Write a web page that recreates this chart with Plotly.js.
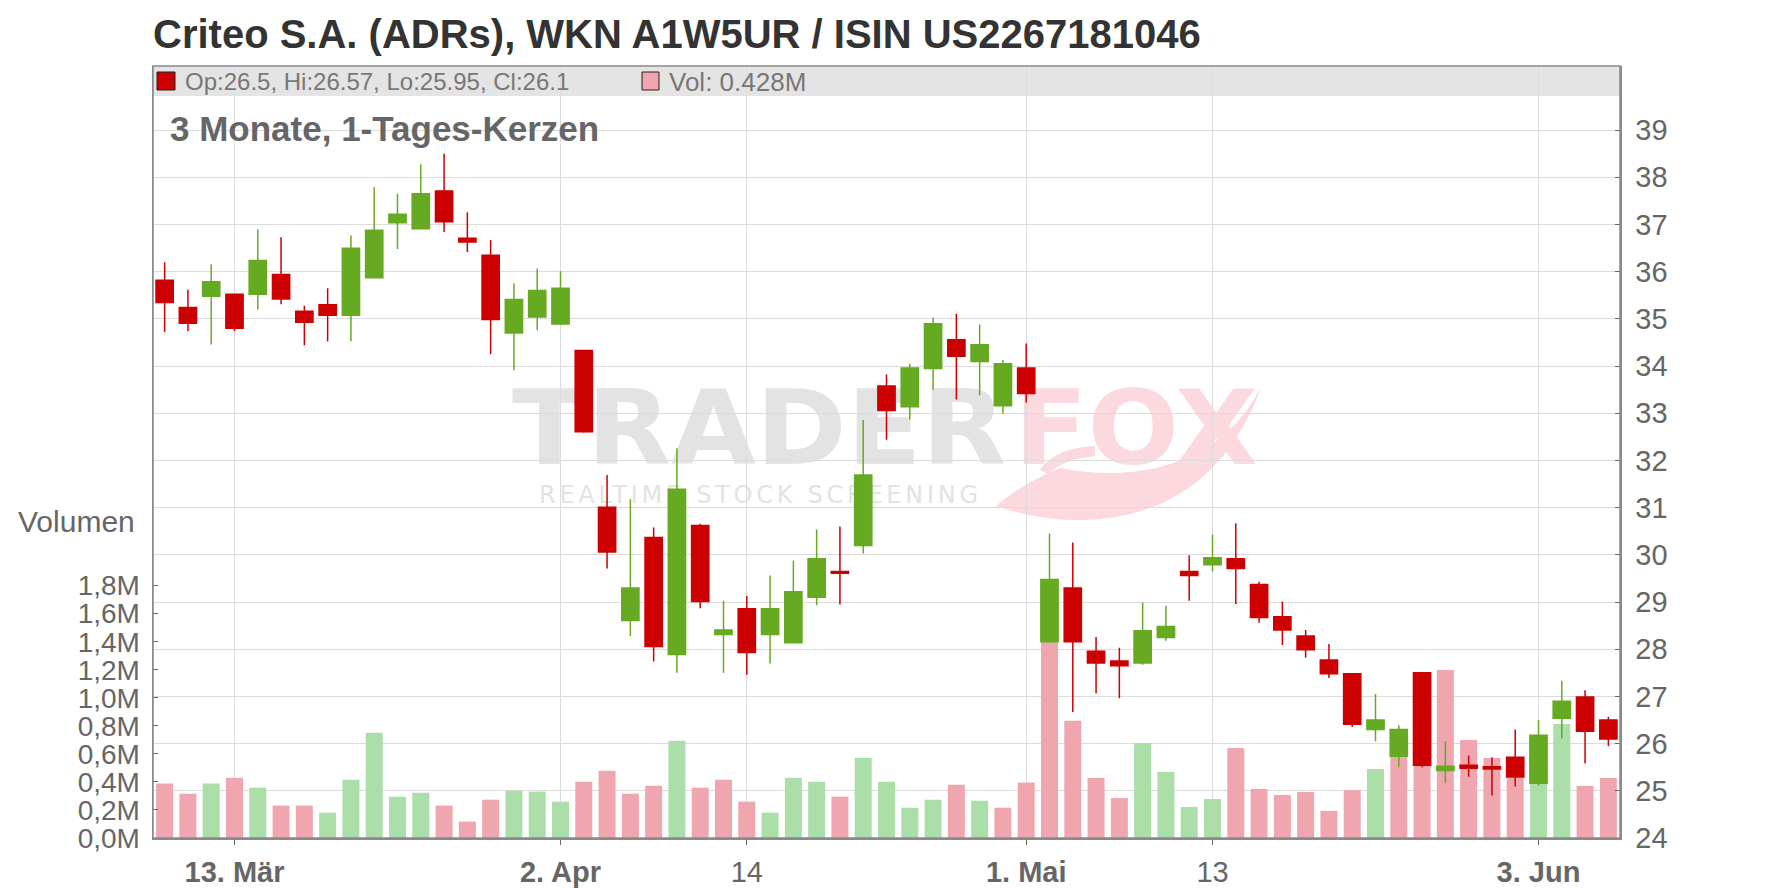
<!DOCTYPE html>
<html>
<head>
<meta charset="utf-8">
<script src="https://cdn.plot.ly/plotly-3.0.1.min.js"></script>
<style>
html,body{margin:0;padding:0;background:#fff;}
#chart{width:1776px;height:888px;}
</style>
</head>
<body>
<div id="chart"></div>
<script>
// ---------- data ----------
const dates = [
 '2019-03-08','2019-03-11','2019-03-12','2019-03-13','2019-03-14','2019-03-15','2019-03-18','2019-03-19','2019-03-20','2019-03-21',
 '2019-03-22','2019-03-25','2019-03-26','2019-03-27','2019-03-28','2019-03-29','2019-04-01','2019-04-02','2019-04-03','2019-04-04',
 '2019-04-05','2019-04-08','2019-04-09','2019-04-10','2019-04-11','2019-04-12','2019-04-15','2019-04-16','2019-04-17','2019-04-18',
 '2019-04-22','2019-04-23','2019-04-24','2019-04-25','2019-04-26','2019-04-29','2019-04-30','2019-05-01','2019-05-02','2019-05-03',
 '2019-05-06','2019-05-07','2019-05-08','2019-05-09','2019-05-10','2019-05-13','2019-05-14','2019-05-15','2019-05-16','2019-05-17',
 '2019-05-20','2019-05-21','2019-05-22','2019-05-23','2019-05-24','2019-05-28','2019-05-29','2019-05-30','2019-05-31','2019-06-03',
 '2019-06-04','2019-06-05','2019-06-06'
];
const open = [
 35.82,35.24,35.48,35.52,35.52,35.94,35.16,35.30,35.08,35.87,
 37.04,36.91,37.71,36.71,36.35,34.70,35.04,34.89,34.33,31.01,
 28.61,30.37,27.89,30.62,28.31,28.86,28.31,28.14,29.10,29.65,
 30.20,33.58,33.14,33.95,34.56,34.10,33.16,33.96,28.16,29.30,
 27.96,27.75,27.71,28.25,29.65,29.79,29.92,29.37,28.69,28.28,
 27.77,27.48,26.30,25.73,27.50,25.43,25.54,25.51,25.71,25.16,
 26.54,26.99,26.5
];
const high = [
 36.20,35.62,36.16,35.54,36.90,36.73,35.28,35.65,36.77,37.79,
 37.65,38.28,38.50,37.26,36.67,35.75,36.07,36.01,34.34,31.69,
 31.18,30.58,32.26,30.66,29.03,29.13,29.56,29.88,30.54,30.60,
 32.86,33.82,34.05,35.03,35.11,34.88,34.13,34.48,30.45,30.26,
 28.26,28.03,28.99,28.92,29.99,30.43,30.67,29.43,29.01,28.41,
 28.11,27.49,27.05,26.39,27.51,26.05,25.75,25.71,26.30,26.50,
 27.33,27.13,26.57
];
const low = [
 34.72,34.74,34.46,34.74,35.20,35.31,34.44,34.52,34.52,35.86,
 36.48,36.90,36.84,36.42,34.25,33.91,34.76,34.87,32.59,29.71,
 28.28,27.74,27.50,28.87,27.50,27.46,27.70,28.12,28.93,28.95,
 30.03,32.44,32.87,33.50,33.29,33.38,32.99,33.23,28.14,26.67,
 27.06,26.96,27.67,28.18,29.03,29.65,28.96,28.56,28.09,27.82,
 27.39,26.35,26.05,25.50,25.50,25.16,25.30,24.90,25.09,25.11,
 26.11,25.58,25.95
];
const close = [
 35.35,34.91,35.79,34.80,36.24,35.42,34.93,35.08,36.50,36.88,
 37.22,37.65,37.06,36.63,34.99,35.41,35.60,35.65,32.61,30.06,
 29.30,28.06,31.39,29.01,28.41,27.93,28.86,29.22,29.92,29.61,
 31.69,33.06,33.96,34.90,34.21,34.45,34.05,33.42,29.48,28.16,
 27.71,27.65,28.39,28.48,29.56,29.94,29.71,28.67,28.41,27.99,
 27.48,26.41,26.50,26.30,25.54,25.52,25.48,25.46,25.29,26.18,
 26.90,26.26,26.1
];
// volume in millions of shares
const volume = [
 0.388,0.316,0.388,0.430,0.359,0.231,0.231,0.181,0.416,0.751,
 0.295,0.323,0.231,0.117,0.273,0.338,0.331,0.259,0.402,0.480,
 0.316,0.373,0.694,0.359,0.416,0.259,0.181,0.430,0.402,0.295,
 0.573,0.402,0.216,0.273,0.380,0.266,0.216,0.395,1.400,0.836,
 0.428,0.285,0.678,0.471,0.221,0.278,0.642,0.350,0.307,0.328,
 0.193,0.342,0.492,0.578,0.520,1.198,0.699,0.571,0.430,0.390,
 0.813,0.371,0.428
];
const tickDates  = ['2019-03-13','2019-04-02','2019-04-12','2019-05-01','2019-05-13','2019-06-03'];
const tickLabels = ['<b>13. Mär</b>','<b>2. Apr</b>','14','<b>1. Mai</b>','13','<b>3. Jun</b>'];
const priceTicks  = [24,25,26,27,28,29,30,31,32,33,34,35,36,37,38,39];
const volumeTicks = [0,0.2,0.4,0.6,0.8,1.0,1.2,1.4,1.6,1.8];

const titleText    = 'Criteo S.A. (ADRs), WKN A1W5UR / ISIN US2267181046';
const subtitleText = '3 Monate, 1-Tages-Kerzen';
const volumeLabel  = 'Volumen';

// ---------- styling / geometry ----------
const W = 1776, H = 888;
const M = {l:153, r:156, t:66, b:50};
const PW = W - M.l - M.r, PH = H - M.t - M.b;
const pxPerPrice = 47.19, pxPerMio = 140.2;
const FONT = 'Liberation Sans, Arial, sans-serif';
const RED = '#cc0000', GREEN = '#66aa22', PINK = '#efa6ae', LGREEN = '#acdeaa';
const GRID = '#dcdcdc', FRAME = '#8a8a8a', TXT = '#666666';

const px2x = X => (X - M.l) / PW;
const px2y = Y => (M.t + PH - Y) / PH;

const n = dates.length - 1;
const volColors = volume.map((v, i) => {
  const up = i === 0 ? close[i] > open[i] : close[i] > close[i - 1];
  return up ? LGREEN : PINK;
});
const volumeTickText = volumeTicks.map(v => v.toFixed(1).replace('.', ',') + 'M');

// watermark (drawn below grid and traces)
const wm = '<svg xmlns="http://www.w3.org/2000/svg" width="' + PW + '" height="' + PH + '" viewBox="' + M.l + ' ' + M.t + ' ' + PW + ' ' + PH + '">' +
  '<text x="512" y="464" font-family="DejaVu Sans" font-weight="bold" font-size="104" fill="#e3e3e3" textLength="494" lengthAdjust="spacingAndGlyphs">TRADER</text>' +
  '<path d="M 996 506 C 1060 528, 1205 545, 1262 385 C 1220 470, 1130 482, 1060 468 C 1035 478, 1012 492, 996 506 Z" fill="#fcd9de"/>' +
  '<path d="M 1040 470 C 1050 455, 1070 447, 1095 446 L 1095 456 C 1075 458, 1058 464, 1048 474 Z" fill="#fcd9de"/>' +
  '<text x="1014" y="464" font-family="DejaVu Sans" font-weight="bold" font-size="104" fill="#fcd9de" textLength="244" lengthAdjust="spacingAndGlyphs">FOX</text>' +
  '<text x="539" y="503" font-family="DejaVu Sans" font-size="24" fill="#e3e3e3" textLength="439" lengthAdjust="spacing">REALTIME STOCK SCREENING</text>' +
  '</svg>';
const wmSrc = 'data:image/svg+xml;base64,' + btoa(wm);

const traces = [
  {
    type: 'bar', x: dates, y: volume, xaxis: 'x', yaxis: 'y',
    marker: {color: volColors, line: {width: 0}}, width: 0.73,
    hoverinfo: 'skip', showlegend: false
  },
  {
    type: 'candlestick', x: dates, open: open, high: high, low: low, close: close,
    xaxis: 'x', yaxis: 'y2',
    increasing: {line: {color: GREEN, width: 1.5}, fillcolor: GREEN},
    decreasing: {line: {color: RED, width: 1.5}, fillcolor: RED},
    whiskerwidth: 0, hoverinfo: 'skip', showlegend: false
  }
];

const layout = {
  width: W, height: H,
  margin: M,
  paper_bgcolor: '#ffffff', plot_bgcolor: '#ffffff',
  separators: ',.',
  showlegend: false,
  hovermode: false,
  barmode: 'overlay',
  boxgap: 0.26, boxgroupgap: 0,
  font: {family: FONT, color: TXT},
  title: {
    text: titleText,
    font: {family: FONT, size: 40, color: '#333333', weight: 'bold'},
    xref: 'paper', x: 0, xanchor: 'left',
    yref: 'container', y: 1 - 34 / H, yanchor: 'middle'
  },
  xaxis: {
    type: 'category', range: [-0.5, n + 0.5],
    tickmode: 'array', tickvals: tickDates, ticktext: tickLabels,
    showgrid: true, gridcolor: GRID, gridwidth: 1,
    ticks: 'outside', ticklen: 5, tickcolor: TXT,
    tickfont: {family: FONT, size: 29, color: TXT},
    ticklabelstandoff: 3,
    showline: true, linecolor: FRAME, linewidth: 1.5,
    zeroline: false, fixedrange: true,
    rangeslider: {visible: false}
  },
  yaxis: {
    side: 'left', range: [0, PH / pxPerMio],
    tickmode: 'array', tickvals: volumeTicks, ticktext: volumeTickText,
    showgrid: false, zeroline: false,
    ticks: 'inside', ticklen: 5, tickcolor: TXT,
    tickfont: {family: FONT, size: 28, color: TXT},
    ticklabelstandoff: 6,
    showline: true, linecolor: FRAME, linewidth: 1.5, fixedrange: true
  },
  yaxis2: {
    overlaying: 'y', side: 'right', range: [24, 24 + PH / pxPerPrice],
    tickmode: 'array', tickvals: priceTicks,
    showgrid: true, gridcolor: GRID, gridwidth: 1, zeroline: false,
    ticks: 'inside', ticklen: 5, tickcolor: TXT,
    tickfont: {family: FONT, size: 29, color: TXT},
    ticklabelstandoff: 8,
    showline: true, linecolor: FRAME, linewidth: 1.5, fixedrange: true
  },
  images: [{
    source: wmSrc, xref: 'paper', yref: 'paper', x: 0, y: 1, sizex: 1, sizey: 1,
    xanchor: 'left', yanchor: 'top', sizing: 'stretch', layer: 'below', opacity: 1
  }],
  shapes: [
    // header band
    {type: 'rect', xref: 'paper', yref: 'paper', x0: 0, x1: 1, y0: px2y(96), y1: 1,
     fillcolor: '#e4e4e4', line: {width: 0}, layer: 'below'},
    // legend squares
    {type: 'rect', xref: 'paper', yref: 'paper', x0: px2x(157), x1: px2x(175), y0: px2y(90), y1: px2y(72),
     fillcolor: RED, line: {color: '#222', width: 1}, layer: 'above'},
    {type: 'rect', xref: 'paper', yref: 'paper', x0: px2x(642), x1: px2x(659), y0: px2y(90), y1: px2y(72),
     fillcolor: PINK, line: {color: '#222', width: 1}, layer: 'above'},
    // frame
    {type: 'rect', xref: 'paper', yref: 'paper', x0: 0, x1: 1, y0: 0, y1: 1,
     fillcolor: 'rgba(0,0,0,0)', line: {color: FRAME, width: 1.5}, layer: 'above'}
  ],
  annotations: [
    {text: 'Op:' + open[n] + ', Hi:' + high[n] + ', Lo:' + low[n] + ', Cl:' + close[n],
     xref: 'paper', yref: 'paper', x: px2x(183), y: px2y(82), xanchor: 'left', yanchor: 'middle',
     showarrow: false, font: {family: FONT, size: 24, color: '#777777'}},
    {text: 'Vol: ' + volume[n] + 'M',
     xref: 'paper', yref: 'paper', x: px2x(667), y: px2y(82), xanchor: 'left', yanchor: 'middle',
     showarrow: false, font: {family: FONT, size: 26, color: '#777777'}},
    {text: '<b>' + subtitleText + '</b>',
     xref: 'paper', yref: 'paper', x: px2x(168), y: px2y(129), xanchor: 'left', yanchor: 'middle',
     showarrow: false, font: {family: FONT, size: 35, color: TXT}},
    {text: volumeLabel,
     xref: 'paper', yref: 'paper', x: px2x(16), y: px2y(521), xanchor: 'left', yanchor: 'middle',
     showarrow: false, font: {family: FONT, size: 30, color: TXT}}
  ]
};

Plotly.newPlot('chart', traces, layout, {displayModeBar: false, staticPlot: true});
</script>
</body>
</html>
